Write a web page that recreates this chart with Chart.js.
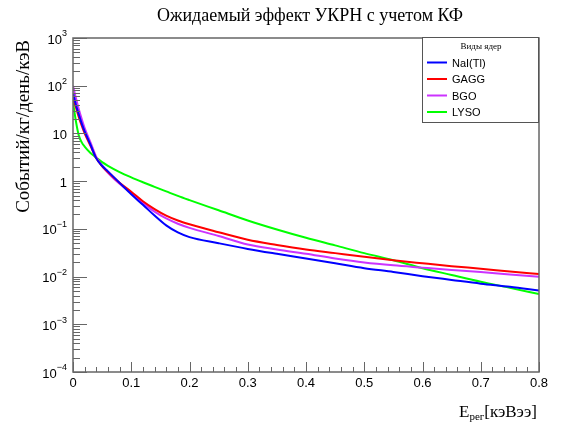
<!DOCTYPE html>
<html>
<head>
<meta charset="utf-8">
<script src="https://cdn.jsdelivr.net/npm/chart.js@4"></script>
<style>
  body { margin: 0; background: #fff; }
  canvas { display: block; }
</style>
</head>
<body>
<canvas id="chart" width="561" height="423"></canvas>
<script>
// energies, keVee
const energies = [0, 0.005, 0.01, 0.015, 0.02, 0.03, 0.04, 0.05, 0.06, 0.08, 0.1, 0.12, 0.14, 0.16, 0.18, 0.2,
  0.25, 0.3, 0.35, 0.4, 0.45, 0.5, 0.55, 0.6, 0.65, 0.7, 0.75, 0.8];

const naiValues = [70, 40, 25, 16, 11, 5.8, 3.0, 2.1, 1.6, 0.92, 0.53, 0.32, 0.19, 0.118, 0.084, 0.067,
  0.05, 0.038, 0.03, 0.024, 0.019, 0.015, 0.0125, 0.0102, 0.0085, 0.0071, 0.0061, 0.0051];
const gaggValues = [55, 35, 22, 14.5, 10, 5.5, 3.0, 2.05, 1.55, 0.92, 0.6, 0.38, 0.26, 0.19, 0.15, 0.125,
  0.085, 0.059, 0.046, 0.037, 0.031, 0.026, 0.022, 0.019, 0.0165, 0.0146, 0.0128, 0.0113];
const bgoValues = [100, 55, 32, 20, 13, 6.5, 3.2, 2.1, 1.5, 0.88, 0.56, 0.35, 0.23, 0.165, 0.128, 0.105,
  0.071, 0.047, 0.037, 0.03, 0.024, 0.0198, 0.0172, 0.0154, 0.0138, 0.0124, 0.011, 0.0099];
const lysoValues = [45, 18, 9, 6.5, 5.3, 3.9, 3.1, 2.5, 2.1, 1.55, 1.2, 0.95, 0.76, 0.61, 0.49, 0.4,
  0.245, 0.15, 0.097, 0.065, 0.045, 0.031, 0.022, 0.015, 0.0108, 0.0078, 0.0058, 0.0043];

const seriesNames = ["NaI(Tl)", "GAGG", "BGO", "LYSO"];
const seriesColors = ["#0000ff", "#ff0000", "#cc33ff", "#00ff00"];
const seriesValues = [naiValues, gaggValues, bgoValues, lysoValues];

const xTicks = [0, 0.1, 0.2, 0.3, 0.4, 0.5, 0.6, 0.7, 0.8];
const xMinorStep = 0.02;
const yDecades = [-4, -3, -2, -1, 0, 1, 2, 3];

const chartTitle = "Ожидаемый эффект УКРН с учетом КФ";
const yTitle = "Событий/кг/день/кэВ";
const legendTitle = "Виды ядер";

const axisColor = "#666";
const tickFont = "13px 'Liberation Sans', Arial, sans-serif";
const supFont = "9px 'Liberation Sans', Arial, sans-serif";
const serif = "'Liberation Serif', 'Times New Roman', serif";

const rootStyle = {
  id: "rootStyle",
  afterDraw(chart) {
    const ctx = chart.ctx;
    const a = chart.chartArea;
    const xs = chart.scales.x;
    const ys = chart.scales.y;
    ctx.save();

    // frame
    ctx.strokeStyle = axisColor;
    ctx.lineWidth = 1.5;
    ctx.strokeRect(a.left, a.top, a.right - a.left, a.bottom - a.top);

    // x ticks
    ctx.lineWidth = 1;
    ctx.beginPath();
    for (let v = 0; v <= 0.8 + 1e-9; v += xMinorStep) {
      const px = Math.round(xs.getPixelForValue(v)) + 0.5;
      const major = Math.abs(v * 10 - Math.round(v * 10)) < 1e-6;
      ctx.moveTo(px, a.bottom);
      ctx.lineTo(px, a.bottom - (major ? 10 : 5));
    }
    // y ticks
    yDecades.forEach(d => {
      const py = Math.round(ys.getPixelForValue(Math.pow(10, d))) + 0.5;
      ctx.moveTo(a.left, py);
      ctx.lineTo(a.left + 14, py);
      if (d < 3) {
        for (let m = 2; m <= 9; m++) {
          const my = Math.round(ys.getPixelForValue(m * Math.pow(10, d))) + 0.5;
          ctx.moveTo(a.left, my);
          ctx.lineTo(a.left + 7, my);
        }
      }
    });
    ctx.stroke();

    // tick labels
    ctx.fillStyle = "#000";
    ctx.font = tickFont;
    ctx.textAlign = "center";
    ctx.textBaseline = "middle";
    xTicks.forEach(v => {
      ctx.fillText(v === 0 ? "0" : v.toFixed(1), xs.getPixelForValue(v), a.bottom + 11);
    });

    const labelRight = a.left - 6;
    yDecades.forEach(d => {
      const py = ys.getPixelForValue(Math.pow(10, d)) + 2;
      ctx.textBaseline = "middle";
      if (d === 0 || d === 1) {
        ctx.font = tickFont;
        ctx.textAlign = "right";
        ctx.fillText(d === 0 ? "1" : "10", labelRight, py);
      } else {
        const exp = String(d).replace("-", "\u2212");
        ctx.font = supFont;
        const ew = ctx.measureText(exp).width;
        ctx.textAlign = "left";
        ctx.fillText(exp, labelRight - ew, py - 6);
        ctx.font = tickFont;
        ctx.textAlign = "right";
        ctx.fillText("10", labelRight - ew, py);
      }
    });

    // title
    ctx.font = "18px " + serif;
    ctx.textAlign = "center";
    ctx.textBaseline = "alphabetic";
    ctx.fillText(chartTitle, 310, 21);

    // y title
    ctx.save();
    ctx.translate(29, a.top + 2);
    ctx.rotate(-Math.PI / 2);
    ctx.font = "19px " + serif;
    ctx.textAlign = "right";
    ctx.fillText(yTitle, 0, 0);
    ctx.restore();

    // x title: E_рег[кэВээ]
    ctx.textAlign = "left";
    let tx = 459;
    const ty = 417;
    ctx.font = "17px " + serif;
    ctx.fillText("E", tx, ty);
    tx += ctx.measureText("E").width;
    ctx.font = "11px " + serif;
    ctx.fillText("рег", tx, ty + 3);
    tx += ctx.measureText("рег").width;
    ctx.font = "17px " + serif;
    ctx.fillText("[кэВээ]", tx, ty);

    // legend box
    const lx = 422, ly = 37, lw = 116, lh = 85;
    ctx.fillStyle = "#fff";
    ctx.fillRect(lx, ly, lw, lh);
    ctx.strokeStyle = "#555";
    ctx.lineWidth = 1;
    ctx.strokeRect(lx + 0.5, ly + 0.5, lw, lh);
    ctx.fillStyle = "#000";
    ctx.font = "9px " + serif;
    ctx.textAlign = "center";
    ctx.textBaseline = "middle";
    ctx.fillText(legendTitle, lx + lw / 2 + 1, 47);
    ctx.font = "11px 'Liberation Sans', Arial, sans-serif";
    ctx.textAlign = "left";
    seriesNames.forEach((name, i) => {
      const ry = 62.5 + i * 16.5;
      ctx.strokeStyle = seriesColors[i];
      ctx.lineWidth = 2;
      ctx.beginPath();
      ctx.moveTo(427, ry);
      ctx.lineTo(447, ry);
      ctx.stroke();
      ctx.fillText(name, 452, ry + 1);
    });

    ctx.restore();
  }
};

new Chart(document.getElementById("chart"), {
  type: "line",
  data: {
    datasets: seriesNames.map((name, i) => ({
      label: name,
      data: energies.map((e, j) => ({ x: e, y: seriesValues[i][j] })),
      borderColor: seriesColors[i],
      backgroundColor: seriesColors[i],
      borderWidth: 2,
      pointRadius: 0,
      cubicInterpolationMode: "monotone"
    }))
  },
  options: {
    responsive: false,
    animation: false,
    devicePixelRatio: 1,
    layout: { padding: { left: 73, right: 22, top: 38, bottom: 51 } },
    plugins: { legend: { display: false }, tooltip: { enabled: false } },
    scales: {
      x: { type: "linear", min: 0, max: 0.8, display: false },
      y: { type: "logarithmic", min: 1e-4, max: 1e3, display: false }
    }
  },
  plugins: [rootStyle]
});
</script>
</body>
</html>
